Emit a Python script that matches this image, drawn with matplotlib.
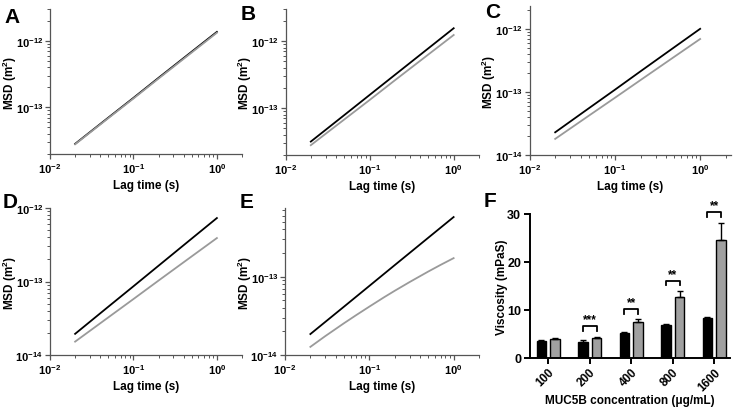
import numpy as np
import matplotlib
matplotlib.use("Agg")
from matplotlib import pyplot as plt
from matplotlib.ticker import LogLocator, NullFormatter, FuncFormatter

plt.rcParams['font.family'] = ['Liberation Sans', 'DejaVu Sans']
plt.rcParams['font.weight'] = 'bold'
plt.rcParams['mathtext.fontset'] = 'custom'
plt.rcParams['mathtext.rm'] = 'Liberation Sans:bold'
plt.rcParams['mathtext.bf'] = 'Liberation Sans:bold'
plt.rcParams['mathtext.it'] = 'Liberation Sans:bold'

# lag times (s) read at a few points along each MSD curve
lag = [0.02, 0.05, 0.1, 0.2, 0.5, 1.0]

msdA_black = [2.84e-14, 7.03e-14, 1.39e-13, 2.78e-13, 6.87e-13, 1.36e-12]
msdA_grey = [2.80e-14, 6.90e-14, 1.36e-13, 2.71e-13, 6.68e-13, 1.32e-12]
msdB_black = [3.17e-14, 7.87e-14, 1.57e-13, 3.13e-13, 7.78e-13, 1.55e-12]
msdB_grey = [2.80e-14, 6.77e-14, 1.32e-13, 2.60e-13, 6.30e-13, 1.23e-12]
msdC_black = [2.29e-14, 5.55e-14, 1.08e-13, 2.12e-13, 5.13e-13, 1.00e-12]
msdC_grey = [1.80e-14, 4.23e-14, 8.05e-14, 1.54e-13, 3.62e-13, 6.90e-13]
msdD_black = [1.94e-14, 4.54e-14, 8.61e-14, 1.64e-13, 3.84e-13, 7.30e-13]
msdD_grey = [1.52e-14, 3.25e-14, 5.77e-14, 1.03e-13, 2.20e-13, 3.90e-13]
msdE_black = [1.85e-14, 4.13e-14, 7.60e-14, 1.40e-13, 3.13e-13, 5.75e-13]
# the grey curve in E bends slightly, so it is read at more points
lagE_grey = [0.02, 0.03, 0.05, 0.07, 0.1, 0.15, 0.2, 0.3, 0.5, 0.7, 1.0]
msdE_grey = [1.27e-14, 1.74e-14, 2.54e-14, 3.23e-14, 4.14e-14, 5.46e-14,
             6.59e-14, 8.51e-14, 1.16e-13, 1.41e-13, 1.72e-13]

# panel F
conc = ['100', '200', '400', '800', '1600']
visc_black = [3.4, 3.3, 5.1, 6.8, 8.2]
err_black = [0.3, 0.3, 0.3, 0.2, 0.3]
visc_grey = [3.8, 4.2, 7.4, 12.7, 24.5]
err_grey = [0.3, 0.2, 0.6, 1.2, 3.7]
stars = ['', '***', '**', '**', '**']

fig = plt.figure(figsize=(7.4, 4.1), dpi=100)


def px(l, t, r, b):
    return [l / 740, 1 - b / 410, (r - l) / 740, (b - t) / 410]


def logPanel(rect, black, grey, ylim, xlim=(0.01, 2), greyLag=lag):
    ax = fig.add_axes(rect)
    ax.plot(lag, black, color='black', linewidth=1.3)
    ax.plot(greyLag, grey, color='#9a9a9a', linewidth=1.3)
    ax.set_xscale('log')
    ax.set_yscale('log')
    ax.set_xlim(*xlim)
    ax.set_ylim(*ylim)
    for s in ['top', 'right']:
        ax.spines[s].set_visible(False)
    for s in ['left', 'bottom']:
        ax.spines[s].set_color('#555555')
        ax.spines[s].set_linewidth(0.9)
    ax.xaxis.set_major_locator(LogLocator(base=10, numticks=10))
    ax.yaxis.set_major_locator(LogLocator(base=10, numticks=10))
    ax.xaxis.set_minor_locator(LogLocator(base=10, subs=np.arange(2, 10), numticks=10))
    ax.yaxis.set_minor_locator(LogLocator(base=10, subs=np.arange(2, 10), numticks=10))
    fmt = FuncFormatter(lambda v, p: r'$\mathbf{10^{%d}}$' % round(np.log10(v)))
    ax.xaxis.set_major_formatter(fmt)
    ax.yaxis.set_major_formatter(fmt)
    ax.xaxis.set_minor_formatter(NullFormatter())
    ax.yaxis.set_minor_formatter(NullFormatter())
    ax.tick_params(which='major', length=3.5, width=0.9, color='#555555', labelsize=8, pad=1.5)
    ax.tick_params(which='minor', length=2, width=0.7, color='#555555')
    ax.set_xlabel('Lag time (s)', fontsize=8.5, fontweight='bold', labelpad=3)
    ax.set_ylabel('MSD (m$^2$)', fontsize=8.5, fontweight='bold')
    # right edge of the rotated label about 31 px left of the spine
    ax.yaxis.set_label_coords(-31 / (rect[2] * 740), 0.5)
    return ax


logPanel(px(50, 10, 242, 155), msdA_black, msdA_grey, (2e-14, 3e-12))
logPanel(px(285.5, 10, 479, 156), msdB_black, msdB_grey, (2e-14, 3e-12))
logPanel(px(529.5, 7, 731, 156), msdC_black, msdC_grey, (1e-14, 2.3e-12), xlim=(0.01, 2.3))
logPanel(px(50, 209, 242, 356), msdD_black, msdD_grey, (1e-14, 1e-12))
logPanel(px(285, 209, 479, 356), msdE_black, msdE_grey, (1e-14, 7.5e-13), greyLag=lagE_grey)

# panel F bar chart
ax = fig.add_axes(px(529.5, 215, 730, 358.7))
x = np.arange(len(conc))
w = 0.23
ax.bar(x - 0.165, visc_black, w, color='black', edgecolor='black', linewidth=1,
       yerr=[[0] * len(conc), err_black], capsize=2.5, error_kw=dict(elinewidth=1, capthick=1))
ax.bar(x + 0.165, visc_grey, w, color='#a0a0a0', edgecolor='black', linewidth=1,
       yerr=[[0] * len(conc), err_grey], capsize=2.5, error_kw=dict(elinewidth=1, capthick=1))
for i in range(len(conc)):
    if stars[i]:
        yb = visc_grey[i] + err_grey[i] + 2.2
        ax.plot([x[i] - 0.165, x[i] - 0.165, x[i] + 0.165, x[i] + 0.165],
                [yb - 1.0, yb, yb, yb - 1.0], color='black', linewidth=1.3, clip_on=False)
        ax.text(x[i], yb + 0.1, stars[i], ha='center', va='bottom', fontsize=8.5, fontweight='bold')
ax.set_xlim(-0.45, 4.38)
ax.set_ylim(0, 30)
ax.set_yticks([0, 10, 20, 30])
ax.set_xticks(x)
ax.set_xticklabels(conc, rotation=45, ha='right', rotation_mode='anchor')
for s in ['top', 'right']:
    ax.spines[s].set_visible(False)
for s in ['left', 'bottom']:
    ax.spines[s].set_linewidth(1.4)
ax.tick_params(length=4, width=1.4, labelsize=9, pad=2)
ax.tick_params(axis='x', labelsize=8.5)
ax.set_ylabel('Viscosity (mPaS)', fontsize=8.5, fontweight='bold')
ax.yaxis.set_label_coords(-21 / 200.5, 0.5)
ax.set_xlabel('MUC5B concentration (μg/mL)', fontsize=8.5, fontweight='bold', labelpad=1)

for letter, xp, yp in [('A', 12.5, 17.5), ('B', 248, 14.5), ('C', 493, 13),
                       ('D', 10, 203), ('E', 247, 203), ('F', 490, 202)]:
    fig.text(xp / 740, 1 - yp / 410, letter, fontsize=15, fontweight='bold', ha='center', va='center')

fig.savefig('out.png', dpi=100)
